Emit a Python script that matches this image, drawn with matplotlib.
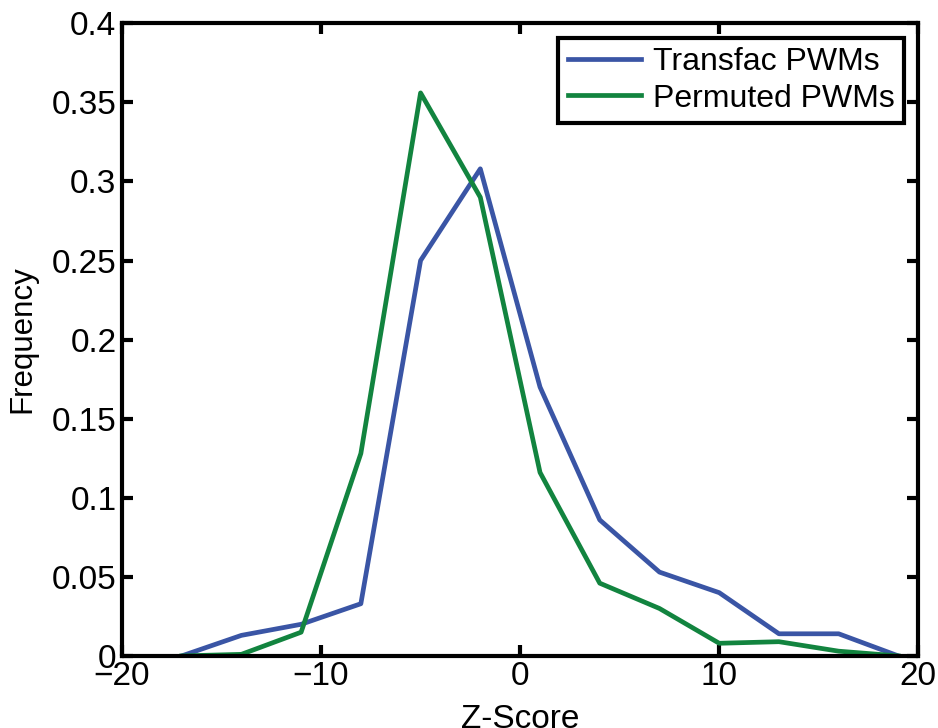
import numpy as np
import matplotlib
matplotlib.use("Agg")
import matplotlib.pyplot as plt

# z-score bin centres and frequencies
z = [-17, -14, -11, -8, -5, -2, 1, 4, 7, 10, 13, 16, 19]
transfac = [0, 0.013, 0.020, 0.033, 0.250, 0.308, 0.170, 0.086, 0.053, 0.040, 0.014, 0.014, 0]
permuted = [0, 0.001, 0.015, 0.128, 0.356, 0.290, 0.116, 0.046, 0.030, 0.008, 0.009, 0.003, 0]

plt.rcParams['font.family'] = ['Liberation Sans', 'DejaVu Sans']

fig = plt.figure(figsize=(9.38, 7.28), dpi=100, facecolor="white")
ax = fig.add_axes([0.130, 0.099, 0.849, 0.869])

ax.plot(z, transfac, color="#3A55A5", lw=3.4, label="Transfac PWMs")
ax.plot(z, permuted, color="#12843F", lw=3.4, label="Permuted PWMs")

ax.set_xlim(-20, 20)
ax.set_ylim(0, 0.4)
ax.set_xticks([-20, -10, 0, 10, 20])
ax.set_yticks(np.arange(0, 0.401, 0.05))
ax.set_yticklabels(['0', '0.05', '0.1', '0.15', '0.2', '0.25', '0.3', '0.35', '0.4'])
ax.set_xticklabels(['\u221220', '\u221210', '0', '10', '20'])
ax.tick_params(direction="in", top=True, right=True, width=3, length=8,
               labelsize=24)
ax.tick_params(axis="x", pad=4)
ax.tick_params(axis="y", pad=4)
for s in ax.spines.values():
    s.set_linewidth(3)

ax.set_xlabel("Z-Score", fontsize=24, labelpad=8)
ax.set_ylabel("Frequency", fontsize=22.5, labelpad=10)

leg = ax.legend(loc="upper right", fontsize=23, fancybox=False, framealpha=1,
                edgecolor="black", handlelength=2.3, borderaxespad=0.45,
                handletextpad=0.35, labelspacing=0.2, borderpad=0.3)
leg.get_frame().set_linewidth(3)

fig.savefig("out.png", dpi=100)
